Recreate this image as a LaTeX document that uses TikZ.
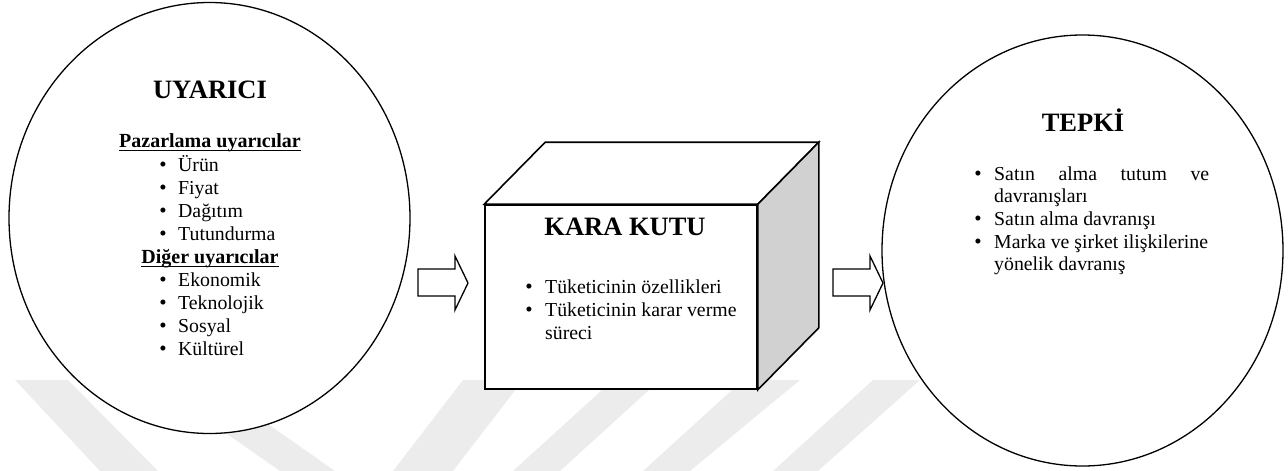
\documentclass[tikz,border=0pt]{standalone}
\usepackage{fontspec}
\setmainfont{Liberation Serif}
\usetikzlibrary{shapes.geometric}
\definecolor{wmgray}{rgb}{0.925,0.925,0.925}
\definecolor{sidegray}{rgb}{0.82,0.82,0.82}
\begin{document}
\begin{tikzpicture}[x=1pt,y=-1pt,
  ring/.style={ellipse, draw, line width=1.3pt, fill=white, inner sep=0pt,
               minimum width=401pt, minimum height=431pt},
  cube/.style={draw, line width=1.6pt, line join=miter},
  ttl/.style={font=\fontsize{26.5}{30}\selectfont\bfseries, anchor=base, inner sep=0pt},
  hdr/.style={font=\fontsize{20}{24}\selectfont\bfseries, anchor=base, inner sep=0pt},
  uline/.style={line width=1.3pt},
  itm/.style={font=\fontsize{19.8}{23}\selectfont, anchor=base west, inner sep=0pt},
  bul/.style={font=\fontsize{21}{23}\selectfont, anchor=base, inner sep=0pt},
  wm/.style={fill=wmgray, draw=none},
  blockarrow/.style={draw, line width=1.3pt, line join=miter}]
\useasboundingbox (0,0) rectangle (1288,471);

% watermark stripes
\fill[wm] (15,380) -- (68,380) -- (158,471) -- (100,471) -- cycle;
\fill[wm] (150,380) -- (205,380) -- (335,471) -- (280,471) -- cycle;
\fill[wm] (463,380) -- (523,380) -- (453,471) -- (393,471) -- cycle;
\fill[wm] (613,380) -- (660,380) -- (560,471) -- (513,471) -- cycle;
\fill[wm] (743,380) -- (800,380) -- (690,471) -- (643,471) -- cycle;
\fill[wm] (873,380) -- (920,380) -- (818,471) -- (773,471) -- cycle;

% circles
\node[ring] (uyarici) at (209.5,218) {};
\node[ring] (tepki) at (1082.5,250.5) {};

% black box (cube)
\node[cube, fill=white, minimum width=272pt, minimum height=184pt, inner sep=0pt] (kara) at (621,297) {};
\coordinate (tl) at ([shift={(61,-62)}]kara.north west);
\coordinate (tr) at ([shift={(61,-62)}]kara.north east);
\coordinate (br) at ([shift={(61,-62)}]kara.south east);
\draw[cube, fill=white] (kara.north west) -- (tl) -- (tr) -- (kara.north east) -- cycle;
\draw[cube, fill=sidegray] (kara.north east) -- (tr) -- (br) -- (kara.south east) -- cycle;

% block arrows
\draw[blockarrow] (418,269) -- (455,269) -- (455,256) -- (468,283) -- (455,310) -- (455,296) -- (418,296) -- cycle;
\draw[blockarrow] (833,269) -- (870,269) -- (870,256) -- (883,283) -- (870,310) -- (870,296) -- (833,296) -- cycle;

% UYARICI texts
\node[ttl] (t1) at (210,98) {UYARICI};
\node[hdr] (h1) at (210,147) {Pazarlama uyarıcılar};
\draw[uline] ([yshift=-3.6pt]h1.base west) -- ([yshift=-3.6pt]h1.base east);
\foreach \y/\t [count=\i] in {171/Ürün,194/Fiyat,217/Dağıtım,240/Tutundurma}{
  \node[bul] (pb\i) at (163,\y) {\textbullet};
  \node[itm] (pi\i) at (178,\y) {\t};
}
\node[hdr] (h2) at (210,263) {Diğer uyarıcılar};
\draw[uline] ([yshift=-3.6pt]h2.base west) -- ([yshift=-3.6pt]h2.base east);
\foreach \y/\t [count=\i] in {286/Ekonomik,309/Teknolojik,332/Sosyal,355/Kültürel}{
  \node[bul] (db\i) at (163,\y) {\textbullet};
  \node[itm] (di\i) at (178,\y) {\t};
}

% KARA KUTU texts
\node[ttl] (t2) at (625,235) {KARA KUTU};
\node[bul] (kb1) at (529,293) {\textbullet};
\node[itm] (ki1) at (545,293) {Tüketicinin özellikleri};
\node[bul] (kb2) at (529,316) {\textbullet};
\node[itm] (ki2) at (545,316) {Tüketicinin karar verme};
\node[itm] (ki3) at (545,339) {süreci};

% TEPKI texts
\node[ttl] (t3) at (1083,131) {TEPKİ};
\node[bul] (rb1) at (978,180) {\textbullet};
\node[itm] (ri1) at (994,180) {\makebox[215pt][s]{Satın\hfill alma\hfill tutum\hfill ve}};
\node[itm] (ri2) at (994,202) {davranışları};
\node[bul] (rb2) at (978,225) {\textbullet};
\node[itm] (ri3) at (994,225) {Satın alma davranışı};
\node[bul] (rb3) at (978,248) {\textbullet};
\node[itm] (ri4) at (994,248) {Marka ve şirket ilişkilerine};
\node[itm] (ri5) at (994,270) {yönelik davranış};
\end{tikzpicture}
\end{document}
